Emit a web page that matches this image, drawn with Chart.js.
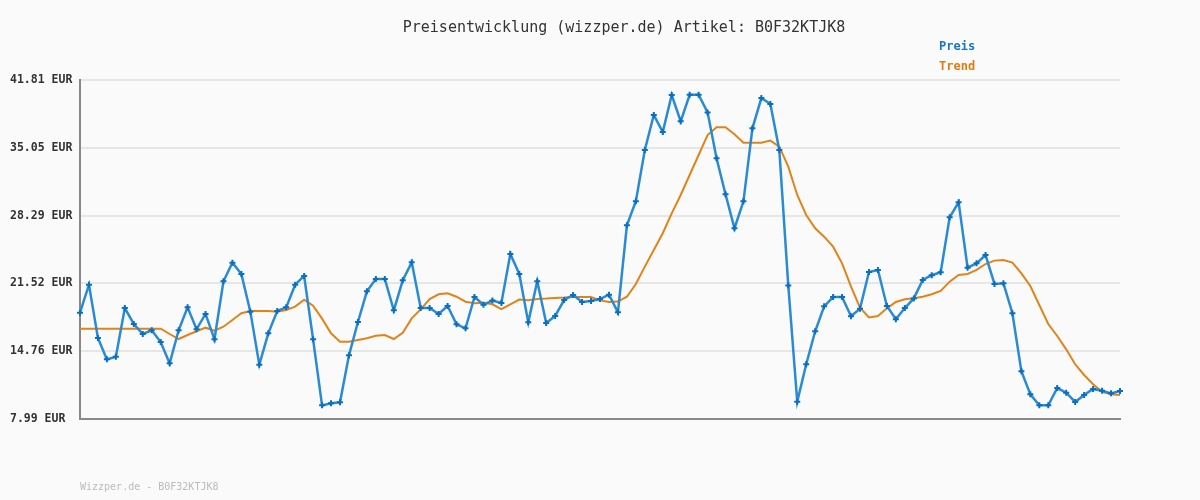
<!DOCTYPE html>
<html>
<head>
<meta charset="utf-8">
<script src="https://cdn.jsdelivr.net/npm/chart.js@4.4.1/dist/chart.umd.min.js"></script>
<style>
    body { margin: 0; background: #fafafa; }
    canvas { display: block; }
</style>
</head>
<body>
<canvas id="priceChart" width="1200" height="500"></canvas>
<script>
const chartTitle = "Preisentwicklung (wizzper.de) Artikel: B0F32KTJK8";
const footerText = "Wizzper.de - B0F32KTJK8";

const yTicks = [7.99, 14.76, 21.52, 28.29, 35.05, 41.81];

const preisValues = [
    18.60, 21.39, 16.07, 13.94, 14.21, 19.06, 17.47, 16.47, 16.84, 15.67,
    13.54, 16.84, 19.13, 16.94, 18.47, 15.94, 21.73, 23.59, 22.46, 18.70,
    13.41, 16.54, 18.77, 19.13, 21.39, 22.26, 15.94, 9.35, 9.56, 9.66,
    14.34, 17.67, 20.73, 21.96, 21.96, 18.83, 21.83, 23.62, 19.06, 19.06,
    18.47, 19.26, 17.44, 17.04, 20.16, 19.40, 19.80, 19.56, 24.45, 22.46,
    17.63, 21.73, 17.57, 18.27, 19.86, 20.36, 19.66, 19.76, 19.96, 20.39,
    18.63, 27.31, 29.71, 34.83, 38.32, 36.62, 40.31, 37.69, 40.34, 40.34,
    38.58, 34.00, 30.41, 27.02, 29.71, 36.99, 40.01, 39.42, 34.83, 21.32,
    9.72, 13.45, 16.74, 19.23, 20.16, 20.16, 18.24, 19.00, 22.66, 22.86,
    19.26, 17.94, 19.06, 20.02, 21.86, 22.33, 22.63, 28.11, 29.61, 23.09,
    23.52, 24.35, 21.46, 21.53, 18.54, 12.75, 10.45, 9.35, 9.35, 11.08,
    10.61, 9.69, 10.39, 10.99, 10.81, 10.55, 10.78
];

const trendValues = [
    17.00, 17.00, 17.00, 17.00, 17.00, 17.00, 17.00, 17.00, 17.00, 17.00,
    16.47, 15.97, 16.37, 16.74, 17.10, 16.80, 17.20, 17.87, 18.54, 18.77,
    18.77, 18.77, 18.70, 18.86, 19.20, 19.90, 19.30, 18.00, 16.54, 15.70,
    15.70, 15.87, 16.04, 16.30, 16.37, 15.97, 16.60, 18.03, 18.93, 19.96,
    20.43, 20.53, 20.19, 19.69, 19.53, 19.59, 19.43, 18.96, 19.43, 19.90,
    19.83, 19.96, 20.00, 20.06, 20.10, 20.16, 20.16, 20.16, 19.83, 19.66,
    19.70, 20.19, 21.46, 23.19, 24.85, 26.52, 28.51, 30.34, 32.33, 34.33,
    36.32, 37.09, 37.09, 36.39, 35.56, 35.56, 35.56, 35.76, 35.16, 33.16,
    30.34, 28.34, 27.02, 26.18, 25.18, 23.52, 21.19, 19.10, 18.12, 18.26,
    19.03, 19.66, 19.93, 20.03, 20.19, 20.43, 20.76, 21.69, 22.36, 22.46,
    22.86, 23.45, 23.79, 23.86, 23.59, 22.52, 21.26, 19.36, 17.47, 16.27,
    14.94, 13.45, 12.38, 11.45, 10.71, 10.45, 10.38
];

// no dates readable in the picture, so just number the days
const categories = preisValues.map((_, i) => i + 1);

const MONO = "'DejaVu Sans Mono', 'Liberation Mono', monospace";

// title, legend text and footer drawn at fixed spots like the original image
const textPlugin = {
    id: "chartTexts",
    afterDraw(chart) {
        const ctx = chart.ctx;
        ctx.save();
        ctx.textBaseline = "middle";

        ctx.font = "15px " + MONO;
        ctx.fillStyle = "#333";
        ctx.textAlign = "center";
        ctx.fillText(chartTitle, 624, 28);

        ctx.textAlign = "left";
        ctx.font = "bold 12px " + MONO;
        ctx.fillStyle = "#1777c4";
        ctx.fillText("Preis", 939, 47);
        ctx.fillStyle = "#dd7d10";
        ctx.fillText("Trend", 939, 67);

        ctx.font = "10px " + MONO;
        ctx.fillStyle = "#bbb";
        ctx.fillText(footerText, 80, 487);
        ctx.restore();
    }
};

new Chart(document.getElementById("priceChart"), {
    type: "line",
    data: {
        labels: categories,
        datasets: [
            {
                label: "Preis",
                data: preisValues,
                borderColor: "#2a8ad4",
                borderWidth: 2.5,
                pointStyle: "cross",
                pointRadius: 3,
                pointBorderWidth: 2,
                pointBorderColor: "#0b6fc0",
                tension: 0,
                order: 0
            },
            {
                label: "Trend",
                data: trendValues,
                borderColor: "#e0841a",
                borderWidth: 2,
                pointRadius: 0,
                tension: 0,
                order: 1
            }
        ]
    },
    options: {
        responsive: false,
        animation: false,
        layout: { padding: { top: 80, right: 80, left: 10, bottom: 0 } },
        plugins: {
            legend: { display: false },
            tooltip: { enabled: false }
        },
        scales: {
            x: {
                offset: false,
                grid: { display: false },
                ticks: { display: false },
                border: { display: true, color: "#888", width: 2 },
                afterFit: scale => { scale.height = 81; }
            },
            y: {
                min: 7.99,
                max: 41.81,
                afterBuildTicks: scale => {
                    scale.ticks = yTicks.map(v => ({ value: v }));
                },
                ticks: {
                    crossAlign: "far",
                    padding: 8,
                    color: "#333",
                    font: { family: MONO, size: 11.5, weight: "bold" },
                    callback: v => v.toFixed(2) + " EUR"
                },
                grid: { color: "#e6e6e6", lineWidth: 2, drawTicks: false },
                border: { color: "#888", width: 2 },
                afterFit: scale => { scale.width = 70; }
            }
        }
    },
    plugins: [textPlugin]
});
</script>
</body>
</html>
